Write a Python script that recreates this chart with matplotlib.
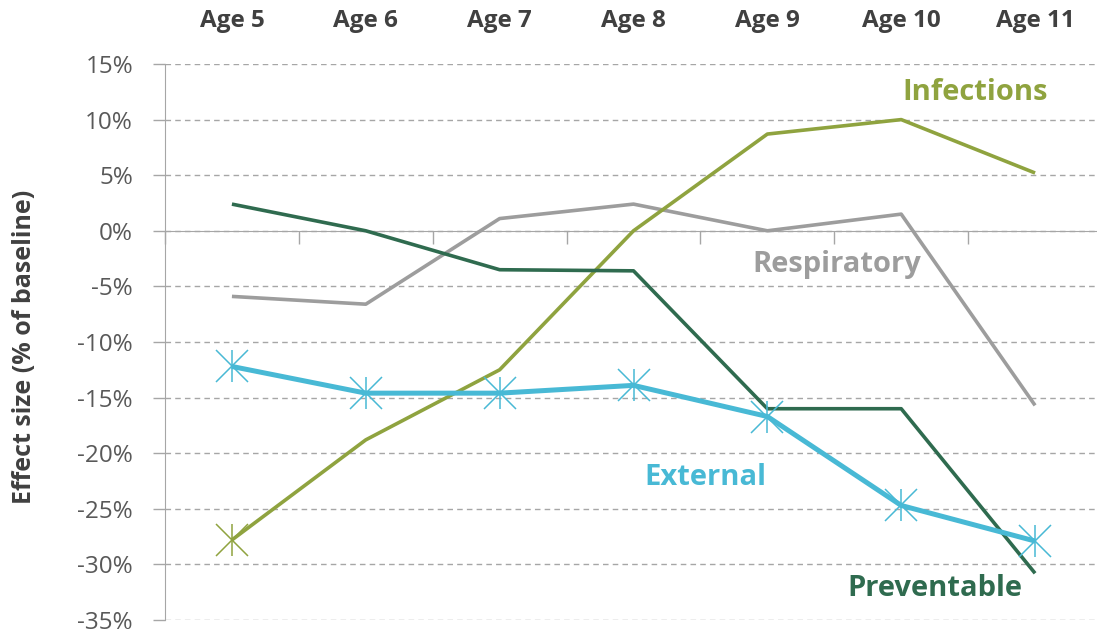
#!/usr/bin/env python3

import matplotlib.pyplot as plt
import numpy as np

plt.rcParams['font.family'] = ['Open Sans', 'DejaVu Sans']

ages = ['Age 5', 'Age 6', 'Age 7', 'Age 8', 'Age 9', 'Age 10', 'Age 11']
infections = [-27.8, -18.8, -12.5, 0.0, 8.7, 10.0, 5.2]
respiratory = [-5.9, -6.6, 1.1, 2.4, 0.0, 1.5, -15.7]
preventable = [2.4, 0.0, -3.5, -3.6, -16.0, -16.0, -30.8]
external = [-12.2, -14.6, -14.6, -13.9, -16.7, -24.7, -27.9]
yticks = [15, 10, 5, 0, -5, -10, -15, -20, -25, -30, -35]

c_inf = '#8fa33f'
c_resp = '#9d9d9d'
c_prev = '#2f6b4f'
c_ext = '#48b9d5'
grey = '#a6a6a6'
text_c = '#404040'

x = np.arange(len(ages))

fig = plt.figure(figsize=(10.97, 6.33), dpi=100)
ax = fig.add_axes([165 / 1097, 13 / 633, 937 / 1097, 556 / 633])

ax.plot(x, respiratory, color=c_resp, lw=2.6, solid_capstyle='butt', zorder=3)
ax.plot(x, infections, color=c_inf, lw=2.6, solid_capstyle='butt', zorder=4)
ax.plot(x, preventable, color=c_prev, lw=2.6, solid_capstyle='butt', zorder=4)
ax.plot(x, external, color=c_ext, lw=3.6, solid_capstyle='butt', zorder=5)

# asterisk style markers
for m in ['x', '|']:
    ax.plot(x, external, ls='none', marker=m, ms=23, mew=1.1,
            color=c_ext, zorder=6)
    ax.plot(x[:1], infections[:1], ls='none', marker=m, ms=23, mew=1.1,
            color=c_inf, zorder=6)

ax.set_xlim(-0.5, 6.5)
ax.set_ylim(-35, 15)

ax.set_yticks(yticks, ['{}%'.format(v) for v in yticks])
ax.yaxis.grid(True, color=grey, ls=(0, (4, 3)), lw=1.0)
ax.set_axisbelow(True)
ax.tick_params(axis='y', length=9, width=1, color=grey, pad=14,
               labelsize=17.5, labelcolor='#595959')

ax.set_xticks(x, ages)
ax.set_xticks(np.arange(-0.5, 7, 1), minor=True)
ax.tick_params(axis='x', which='major', length=0, bottom=False, top=False,
               labelbottom=False, labeltop=True, pad=22,
               labelsize=17.5, labelcolor=text_c)
ax.tick_params(axis='x', which='minor', length=9, width=1, color=grey,
               direction='out')

ax.spines['bottom'].set_position(('data', 0))
ax.spines['bottom'].set_color(grey)
ax.spines['left'].set_color(grey)
ax.spines['top'].set_visible(False)
ax.spines['right'].set_visible(False)

fig.text(25 / 1097, 1 - 347 / 633, 'Effect size (% of baseline)',
         rotation=90, ha='center', va='center', fontsize=18,
         fontweight='bold', color=text_c)

lab_kw = dict(ha='center', va='center', fontsize=21, fontweight='bold')
ax.text(5.55, 12.4, 'Infections', color=c_inf, **lab_kw)
ax.text(4.52, -3.05, 'Respiratory', color=c_resp, **lab_kw)
ax.text(3.54, -22.2, 'External', color=c_ext, **lab_kw)
ax.text(5.25, -32.2, 'Preventable', color=c_prev, **lab_kw)

for t in ax.xaxis.get_major_ticks():
    t.label1.set_fontweight('bold')
    t.label2.set_fontweight('bold')

fig.savefig('out.png', dpi=100)
